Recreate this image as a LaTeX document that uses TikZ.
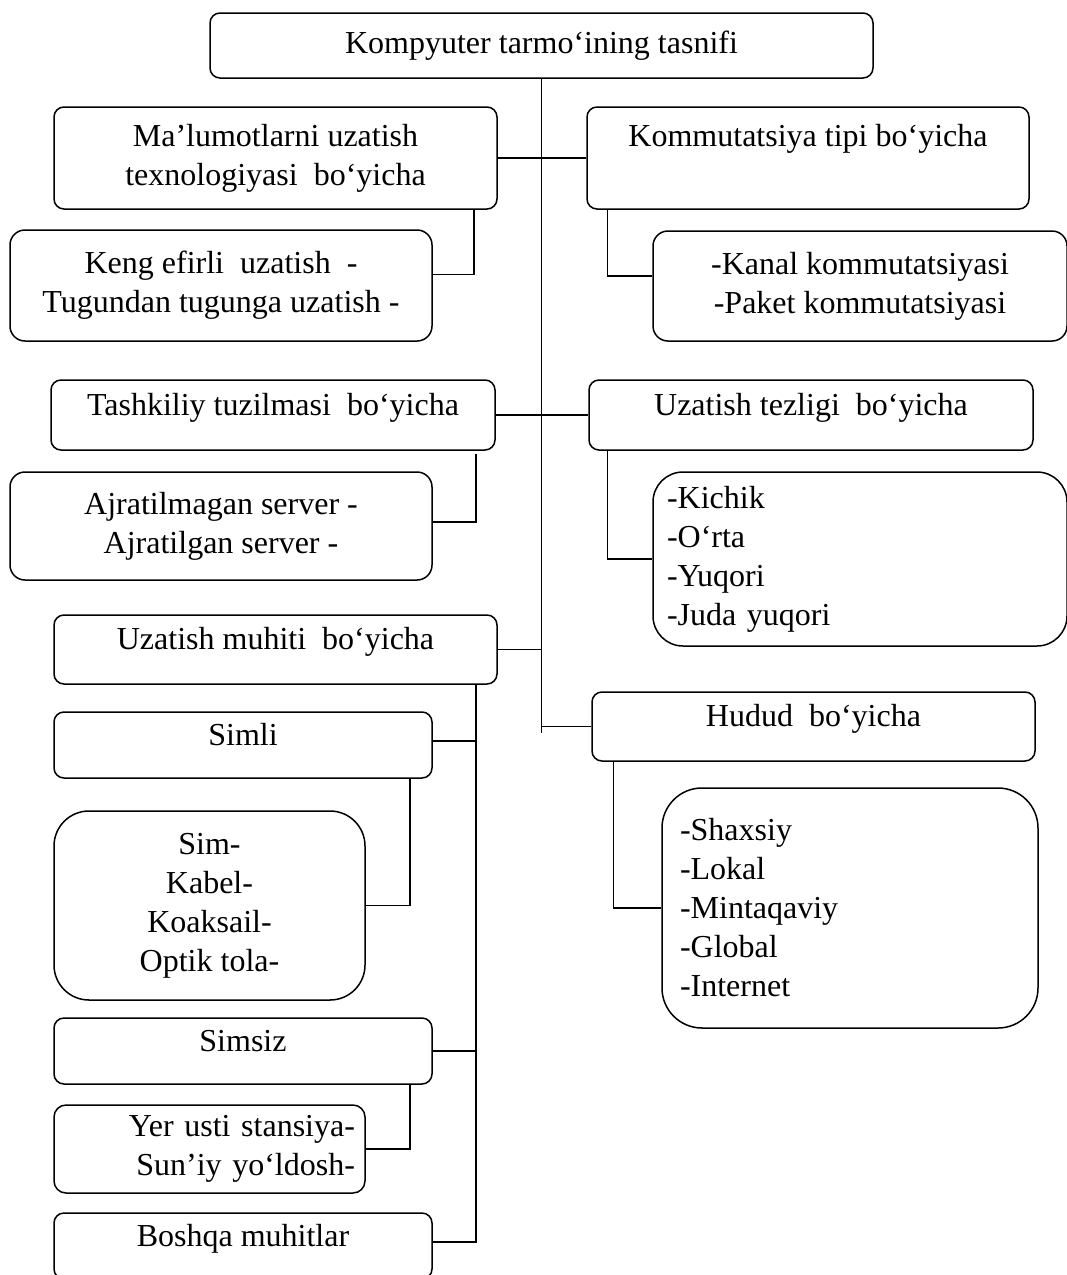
\documentclass[tikz,border=0pt]{standalone}
\usepackage{fontspec}
\setmainfont{Liberation Serif}
\usetikzlibrary{positioning}

\begin{document}
\begin{tikzpicture}[x=1pt, y=-1pt,
  box/.style={draw, line width=1.5pt, rounded corners=10pt, inner sep=0pt, align=center, font=\fontsize{32}{39}\selectfont},
  bir/.style={box, text height=12pt, text depth=12pt},
  chiziq/.style={line width=1.5pt}]

\useasboundingbox (0,0) rectangle (1067,1275);

% Asosiy sarlavha
\node[box, minimum width=663pt, minimum height=65pt] (root) at (541.5,45.5) {Kompyuter tarmo‘ining tasnifi};

% Chap tomon
\node[box, minimum width=443pt, minimum height=102pt] (malumot) at (275.5,158) {Ma’lumotlarni uzatish\\texnologiyasi\ \ bo‘yicha};
\node[box, rounded corners=15pt, minimum width=422pt, minimum height=111pt] (keng) at (221,285.5) {Keng efirli\ \ uzatish\ \ -\\Tugundan tugunga uzatish -};

\node[bir, minimum width=444pt, minimum height=70pt] (tashkil) at (273,415) {Tashkiliy tuzilmasi\ \ bo‘yicha};
\node[box, rounded corners=15pt, minimum width=422pt, minimum height=108pt] (ajrat) at (221,526) {Ajratilmagan server -\\Ajratilgan server -};

\node[bir, minimum width=443pt, minimum height=69pt] (muhit) at (275.5,649.5) {Uzatish muhiti\ \ bo‘yicha};
\node[bir, minimum width=378pt, minimum height=66pt] (simli) at (243,745) {Simli};
\node[box, rounded corners=35pt, minimum width=311pt, minimum height=189pt] (simturi) at (209.5,905.5) {Sim-\\Kabel-\\Koaksail-\\Optik tola-};
\node[bir, minimum width=378pt, minimum height=66pt] (simsiz) at (243,1051) {Simsiz};
\node[box, rounded corners=12pt, align=right, text width=291pt, inner xsep=10pt, minimum height=88pt] (yer) at (209.5,1149) {Yer usti stansiya-\\Sun’iy yo‘ldosh-};
\node[bir, minimum width=378pt, minimum height=66pt] (boshqa) at (243,1246) {Boshqa muhitlar};

% O'ng tomon
\node[box, text height=12pt, text depth=36pt, minimum width=442pt, minimum height=102pt] (kommut) at (808,158) {Kommutatsiya tipi bo‘yicha};
\node[box, rounded corners=15pt, minimum width=414pt, minimum height=110pt] (kanal) at (860,286) {-Kanal kommutatsiyasi\\-Paket kommutatsiyasi};

\node[bir, minimum width=444pt, minimum height=70pt] (tezlik) at (811,415) {Uzatish tezligi\ \ bo‘yicha};
\node[box, rounded corners=30pt, align=left, text width=386pt, inner xsep=14pt, minimum height=174pt] (kichik) at (860,559) {-Kichik\\-O‘rta\\-Yuqori\\-Juda yuqori};

\node[bir, minimum width=443pt, minimum height=69pt] (hudud) at (813.5,726.5) {Hudud\ \ bo‘yicha};
\node[box, rounded corners=40pt, align=left, text width=340pt, inner xsep=18pt, minimum height=240pt] (hududlar) at (850,908) {-Shaxsiy\\-Lokal\\-Mintaqaviy\\-Global\\-Internet};

% Asosiy ustun
\coordinate (tend) at (541.5,733);
\draw[chiziq] (root.south) -- (tend);
\draw[chiziq] (malumot.east) -- (kommut.west);
\draw[chiziq] (tashkil.east) -- (tezlik.west);
\draw[chiziq] (muhit.east) -- (muhit.east -| root.south);
\draw[chiziq] (root.south |- hudud.west) -- (hudud.west);

% Ichki bog'lanishlar
\draw[chiziq] ([xshift=-24pt]malumot.south east) |- ([yshift=11pt]keng.east);
\draw[chiziq] ([xshift=21pt]kommut.south west) |- ([yshift=10pt]kanal.west);
\draw[chiziq] ([xshift=-20pt,yshift=-3pt]tashkil.south east) |- ([yshift=4pt]ajrat.east);
\draw[chiziq] ([xshift=19pt]tezlik.south west) |- (kichik.west);
\draw[chiziq] ([xshift=22pt]hudud.south west) |- (hududlar.west);

% Uzatish muhiti tarmog'i
\coordinate (mt) at ([xshift=-22pt]muhit.south east);
\draw[chiziq] (mt) |- ([yshift=4pt]boshqa.east);
\draw[chiziq] ([yshift=4pt]simli.east) -- ([yshift=4pt]simli.east -| mt);
\draw[chiziq] (simsiz.east) -- (simsiz.east -| mt);
\draw[chiziq] ([xshift=-23pt]simli.south east) |- (simturi.east);
\draw[chiziq] ([xshift=-23pt]simsiz.south east) |- (yer.east);

\end{tikzpicture}
\end{document}
